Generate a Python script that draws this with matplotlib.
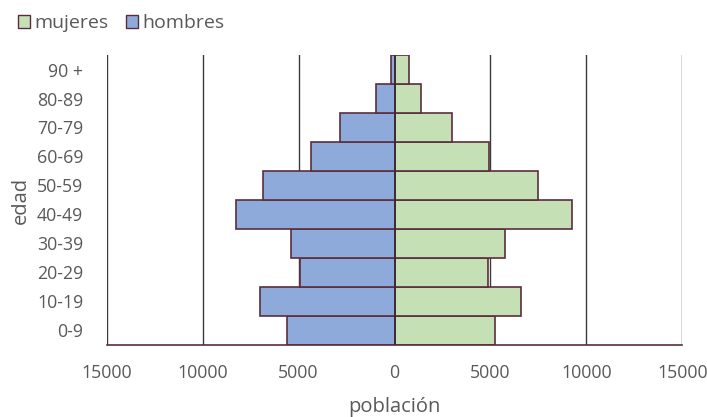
import matplotlib.pyplot as plt
from matplotlib.patches import Patch
from matplotlib.ticker import FuncFormatter

edades = ["0-9", "10-19", "20-29", "30-39", "40-49", "50-59", "60-69", "70-79", "80-89", "90 +"]
mujeres = [5260, 6600, 4850, 5780, 9270, 7500, 4950, 3000, 1400, 730]
hombres = [5620, 7030, 4950, 5420, 8280, 6870, 4370, 2860, 940, 200]

VERDE = "#c5e0b4"
AZUL = "#8eaadb"
BORDE = "#5b2d3c"
GRIS = "#595959"

plt.rcParams["font.family"] = ["Open Sans", "DejaVu Sans"]

fig = plt.figure(figsize=(7.07, 4.17), dpi=100)
ax = fig.add_axes([0.151, 0.173, 0.814, 0.695])

pos = range(len(edades))
ax.barh(pos, mujeres, height=1.0, color=VERDE, edgecolor=BORDE, linewidth=1.2, zorder=2)
ax.barh(pos, [-h for h in hombres], height=1.0, color=AZUL, edgecolor=BORDE, linewidth=1.2, zorder=2)

ax.set_xlim(-15000, 15000)
ax.set_ylim(-0.5, len(edades) - 0.5)
ax.set_xticks(range(-15000, 15001, 5000))
ax.xaxis.set_major_formatter(FuncFormatter(lambda v, p: f"{abs(int(v))}"))
ax.set_yticks(list(pos))
ax.set_yticklabels(edades)

ax.grid(axis="x", color="#3a3a3a", linewidth=1.0, zorder=0)
ax.axvline(0, color="#3a2a30", linewidth=1.2, zorder=3)
for s in ["top", "right", "left"]:
    ax.spines[s].set_visible(False)
ax.spines["bottom"].set_color(BORDE)
ax.spines["bottom"].set_linewidth(1.2)
ax.tick_params(axis="both", length=0, labelsize=12.8, colors=GRIS)
ax.tick_params(axis="y", pad=17)
ax.tick_params(axis="x", pad=14)

ax.set_xlabel("población", fontsize=14.5, color=GRIS)
ax.set_ylabel("edad", fontsize=14.5, color=GRIS)
ax.xaxis.set_label_coords(0.5, -0.18)
ax.yaxis.set_label_coords(-0.131, 0.5)

handles = [Patch(facecolor=VERDE, edgecolor=BORDE, label="mujeres"),
           Patch(facecolor=AZUL, edgecolor=BORDE, label="hombres")]
fig.legend(handles=handles, loc="upper left", bbox_to_anchor=(0.0, 1.008), ncol=2, frameon=False,
           fontsize=14, labelcolor=GRIS, handlelength=0.65, handleheight=0.65,
           handletextpad=0.2, columnspacing=0.9)

fig.savefig("out.png", dpi=100)
